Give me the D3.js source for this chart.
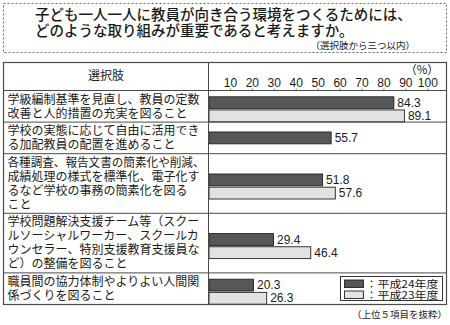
<!DOCTYPE html>
<html lang="ja">
<head>
<meta charset="utf-8">
<script src="https://cdn.jsdelivr.net/npm/d3@7"></script>
<style>
  html, body { margin: 0; padding: 0; background: #fff; }
  svg { display: block; }
  .jp { font-family: "Noto Sans CJK JP", "Noto Sans", sans-serif; }
  .num { font-family: "Liberation Sans", Arial, sans-serif; }
</style>
</head>
<body>
<svg id="chart" width="450" height="325"></svg>
<script>
// Survey answers (each answer wrapped into its printed lines)
const choices = [
  ["学級編制基準を見直し、教員の定数", "改善と人的措置の充実を図ること"],
  ["学校の実態に応じて自由に活用でき", "る加配教員の配置を進めること"],
  ["各種調査、報告文書の簡素化や削減、", "成績処理の様式を標準化、電子化す", "るなど学校の事務の簡素化を図る", "こと"],
  ["学校問題解決支援チーム等（スクー", "ルソーシャルワーカー、スクールカ", "ウンセラー、特別支援教育支援員な", "ど）の整備を図ること"],
  ["職員間の協力体制やよりよい人間関", "係づくりを図ること"]
];
const seriesNames = ["平成24年度", "平成23年度"];
const valuesH24 = [84.3, 55.7, 51.8, 29.4, 20.3];
const valuesH23 = [89.1, null, 57.6, 46.4, 26.3];
const tickValues = [10, 20, 30, 40, 50, 60, 70, 80, 90, 100];

const titleLines = [
  "子ども一人一人に教員が向き合う環境をつくるためには、",
  "どのような取り組みが重要であると考えますか。"
];
const titleNote = "（選択肢から三つ以内）";
const headerLabel = "選択肢";
const footNote = "（上位５項目を抜粋）";

const svg = d3.select("#chart");
const lineColor = "#4a4a4a";
const darkFill = "#575757";
const lightFill = "#e2e2e2";

// ---- question block ----
svg.append("rect")
  .attr("x", 3.5).attr("y", 3.5).attr("width", 443).attr("height", 49)
  .attr("fill", "none").attr("stroke", "#666").attr("stroke-width", 1)
  .attr("stroke-dasharray", "2,2");

svg.selectAll("text.title").data(titleLines).join("text")
  .attr("class", "title jp")
  .attr("x", 35).attr("y", (d, i) => 20 + i * 16)
  .attr("font-size", 14.5).attr("font-weight", 500).attr("fill", "#1a1a1a")
  .text(d => d);

svg.append("text").attr("class", "jp")
  .attr("x", 415).attr("y", 48.5).attr("text-anchor", "end")
  .attr("font-size", 9.5).attr("fill", "#222")
  .text(titleNote);

// ---- table geometry ----
const tableLeft = 3.5, tableRight = 446.5, tableTop = 62.5, headerBottom = 90.5;
const divider = 208.5;
const linePitch = 14;

const rowHeights = choices.map(lines => 3.6 + linePitch * lines.length);
const rowTops = [headerBottom, ...d3.cumsum(rowHeights).map(v => headerBottom + v)];
const tableBottom = rowTops[rowTops.length - 1];

const x = d3.scaleLinear().domain([0, 100]).range([divider, divider + 219.3]);

// bar slots inside each row
const barBand = d3.scaleBand().domain(seriesNames).range([0, 25]).paddingInner(0.1);

// row separators
svg.selectAll("line.rowsep").data(rowTops.slice(0, -1)).join("line")
  .attr("x1", tableLeft).attr("x2", tableRight)
  .attr("y1", d => d).attr("y2", d => d)
  .attr("stroke", lineColor).attr("stroke-width", 1);

// left column text
choices.forEach((lines, r) => {
  const h = rowHeights[r];
  const top = rowTops[r];
  const start = top + h / 2 - (lines.length * linePitch) / 2 + 11.3;
  lines.forEach((ln, j) => {
    const t = svg.append("text").attr("class", "jp")
      .attr("x", 7.5).attr("y", start + j * linePitch)
      .attr("font-size", 12).attr("fill", "#1a1a1a")
      .text(ln);
    const w = t.node().getComputedTextLength();
    if (w > 197) t.attr("textLength", 197).attr("lengthAdjust", "spacingAndGlyphs");
  });
});

// header
svg.append("text").attr("class", "jp")
  .attr("x", (tableLeft + divider) / 2).attr("y", 80).attr("text-anchor", "middle")
  .attr("font-size", 12).attr("fill", "#1a1a1a").text(headerLabel);

svg.append("text").attr("class", "jp")
  .attr("x", x(100) + 11).attr("y", 74).attr("text-anchor", "end")
  .attr("font-size", 11.5).attr("fill", "#1a1a1a").text("（%）");

const axis = svg.append("g");
axis.selectAll("text").data(tickValues).join("text")
  .attr("class", "num")
  .attr("x", d => x(d)).attr("y", 87).attr("text-anchor", "middle")
  .attr("font-size", 12).attr("fill", "#1a1a1a")
  .text(d => d);
axis.selectAll("line").data(tickValues).join("line")
  .attr("x1", d => x(d)).attr("x2", d => x(d))
  .attr("y1", headerBottom - 2).attr("y2", headerBottom)
  .attr("stroke", "#555").attr("stroke-width", 0.8);

// ---- bars ----
const rows = choices.map((c, r) => {
  const present = [
    { key: seriesNames[0], value: valuesH24[r], fill: darkFill },
    { key: seriesNames[1], value: valuesH23[r], fill: lightFill }
  ].filter(d => d.value != null);
  return { r, present };
});

rows.forEach(row => {
  const top = rowTops[row.r], h = rowHeights[row.r];
  const pair = row.present.length === 2;
  const groupH = pair ? 25 : barBand.bandwidth();
  const offset = pair ? 3 : 0;
  const gTop = top + h / 2 - groupH / 2 + offset;
  row.present.forEach(d => {
    const y0 = pair ? gTop + barBand(d.key) : gTop;
    svg.append("rect")
      .attr("x", x(0) + 0.5).attr("y", y0)
      .attr("width", x(d.value) - x(0)).attr("height", barBand.bandwidth())
      .attr("fill", d.fill).attr("stroke", "#222").attr("stroke-width", 0.9);
    svg.append("text").attr("class", "num")
      .attr("x", x(d.value) + 4).attr("y", y0 + barBand.bandwidth() / 2 + 4)
      .attr("font-size", 12).attr("fill", "#1a1a1a")
      .text(d.value.toFixed(1));
  });
});

// ---- outer frame and divider ----
svg.append("rect")
  .attr("x", tableLeft).attr("y", tableTop)
  .attr("width", tableRight - tableLeft).attr("height", tableBottom - tableTop)
  .attr("fill", "none").attr("stroke", lineColor).attr("stroke-width", 1.2);
svg.append("line")
  .attr("x1", divider).attr("x2", divider).attr("y1", tableTop).attr("y2", tableBottom)
  .attr("stroke", lineColor).attr("stroke-width", 1);

// ---- legend ----
const legend = svg.append("g").attr("transform", "translate(340.5,276.5)");
legend.append("rect").attr("width", 102).attr("height", 24)
  .attr("fill", "#fff").attr("stroke", "#333").attr("stroke-width", 1);
[darkFill, lightFill].forEach((fill, i) => {
  legend.append("rect")
    .attr("x", 4).attr("y", 3.5 + i * 11).attr("width", 19).attr("height", 7.5)
    .attr("fill", fill).attr("stroke", "#222").attr("stroke-width", 0.9);
  legend.append("text").attr("class", "jp")
    .attr("x", 25).attr("y", 11 + i * 11)
    .attr("font-size", 10).attr("fill", "#1a1a1a")
    .attr("textLength", 73).attr("lengthAdjust", "spacingAndGlyphs")
    .text("：" + seriesNames[i]);
});

// ---- footnote ----
svg.append("text").attr("class", "jp")
  .attr("x", 447).attr("y", 318).attr("text-anchor", "end")
  .attr("font-size", 9.5).attr("fill", "#222").text(footNote);
</script>
</body>
</html>
